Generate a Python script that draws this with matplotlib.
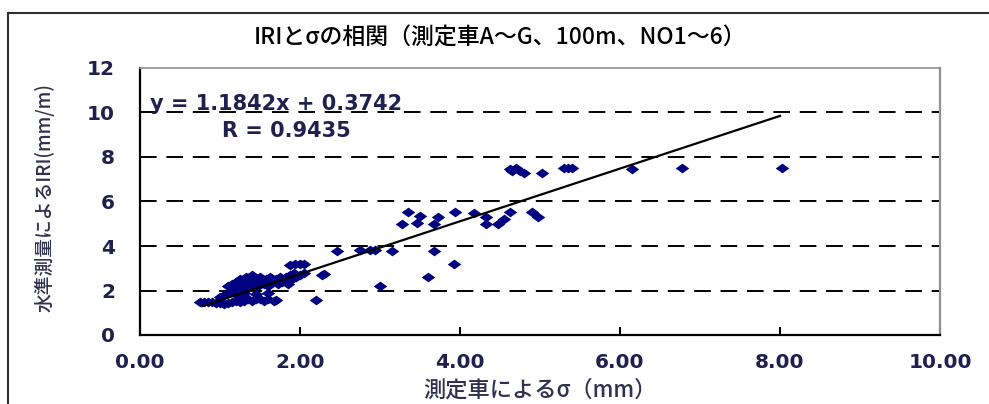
import matplotlib
matplotlib.use("Agg")
import matplotlib.pyplot as plt
import numpy as np
from matplotlib.path import Path
from matplotlib.patches import Rectangle

plt.rcParams['font.family'] = ['Noto Sans CJK JP', 'DejaVu Sans']
plt.rcParams['lines.scale_dashes'] = False

title = "IRIとσの相関（測定車A～G、100m、NO1～6）"
xlabel = "測定車によるσ（mm）"
ylabel = "水準測量によるIRI(mm/m)"

# sigma from the survey vehicle (mm)
sigma = [
    0.75, 0.80, 0.85, 0.90, 0.95, 1.00, 1.05, 1.10, 1.15, 1.20, 1.25, 1.30, 1.35,
    1.40, 1.45, 1.50, 1.55, 1.60, 1.68, 1.70,
    1.10, 1.12, 1.15, 1.18, 1.20, 1.22, 1.25, 1.28, 1.30, 1.32, 1.35, 1.38, 1.40,
    1.42, 1.45, 1.48, 1.50, 1.52, 1.55, 1.58, 1.60, 1.62, 1.65, 1.70, 1.72, 1.75,
    1.78, 1.80, 1.83, 1.85, 1.88, 1.90, 1.92, 1.95, 2.00, 2.05,
    1.00, 1.05, 1.30, 1.45, 1.60, 1.25,
    1.87, 1.94, 2.00, 2.05, 2.27, 2.30, 2.20,
    2.46, 2.75, 2.87, 2.94, 3.15, 3.00, 3.67, 3.60, 3.92,
    3.27, 3.35, 3.46, 3.50, 3.67, 3.73, 3.94, 4.17, 4.33, 4.33, 4.48, 4.63,
    4.90, 4.98, 4.55,
    4.62, 4.65, 4.70, 4.75, 4.80, 5.03, 5.30, 5.35, 5.40, 6.15, 6.78, 8.02,
]
# IRI from levelling survey (mm/m)
iri = [
    1.50, 1.50, 1.48, 1.50, 1.45, 1.45, 1.40, 1.45, 1.50, 1.55, 1.50, 1.55, 1.60,
    1.55, 1.60, 1.60, 1.55, 1.60, 1.55, 1.57,
    2.20, 2.00, 2.30, 1.90, 2.40, 2.10, 2.50, 2.20, 2.30, 2.60, 2.10, 2.40, 2.70,
    2.30, 2.50, 2.20, 2.60, 2.40, 2.30, 2.50, 2.20, 2.60, 2.40, 2.50, 2.30, 2.60,
    2.40, 2.50, 2.60, 2.30, 2.70, 2.50, 2.80, 2.60, 2.70, 2.80,
    1.70, 1.80, 1.90, 1.85, 1.90, 1.75,
    3.15, 3.20, 3.20, 3.20, 2.70, 2.75, 1.57,
    3.78, 3.82, 3.82, 3.82, 3.78, 2.20, 3.78, 2.60, 3.19,
    5.00, 5.53, 5.03, 5.35, 5.00, 5.30, 5.53, 5.48, 5.30, 5.00, 5.00, 5.53,
    5.53, 5.30, 5.20,
    7.45, 7.35, 7.50, 7.35, 7.30, 7.28, 7.50, 7.50, 7.50, 7.46, 7.50, 7.50,
]

slope = 1.1842
intercept = 0.3742
r_value = 0.9435
fit_x = [0.78, 8.0]

fig = plt.figure(figsize=(9.89, 4.04), dpi=100)

# chart-area frame
fig.patches.append(Rectangle((8 / 989, -0.1), 1.2, (404 - 13) / 404 + 0.1,
                             transform=fig.transFigure, fill=False,
                             edgecolor='#303030', linewidth=1.5, zorder=0))

ax = fig.add_axes([140 / 989, (404 - 335) / 404, 800 / 989, 267 / 404])

diamond = Path([(-1, 0), (0, 0.72), (1, 0), (0, -0.72), (-1, 0)],
               [Path.MOVETO, Path.LINETO, Path.LINETO, Path.LINETO, Path.CLOSEPOLY])
ax.scatter(sigma, iri, marker=diamond, s=95, color='#000080', linewidths=0, zorder=3)

fx = np.array(fit_x)
ax.plot(fx, slope * fx + intercept, color='black', linewidth=1.6, zorder=4)

ax.set_xlim(0, 10)
ax.set_ylim(0, 12)
ax.set_xticks(np.arange(0, 10.01, 2))
ax.set_xticklabels([f"{v:.2f}" for v in np.arange(0, 10.01, 2)])
ax.set_yticks(np.arange(0, 12.01, 2))
ax.set_yticklabels([f"{int(v)}" for v in np.arange(0, 12.01, 2)])

tick_color = '#202050'
ax.tick_params(axis='x', direction='in', length=6, width=1.5, pad=13,
               labelsize=14.5, labelcolor=tick_color)
ax.tick_params(axis='y', direction='in', length=0, width=1.5, pad=18,
               labelsize=14.5, labelcolor=tick_color)
for lab in ax.get_xticklabels() + ax.get_yticklabels():
    lab.set_family(['DejaVu Sans'])
    lab.set_weight('bold')

for yv in [2, 4, 6, 8, 10]:
    ax.axhline(yv, color='black', linewidth=1.4, linestyle=(0, (12, 7)), zorder=1)

ax.spines['left'].set_color('black')
ax.spines['bottom'].set_color('black')
ax.spines['left'].set_linewidth(1.6)
ax.spines['bottom'].set_linewidth(1.6)
ax.spines['right'].set_color('#909090')
ax.spines['top'].set_color('#909090')
ax.spines['right'].set_linewidth(1.6)
ax.spines['top'].set_linewidth(1.2)

ax.text(0.12, 10.4, f"y = {slope:.4f}x + {intercept:.4f}", fontsize=15,
        color=tick_color, family=['DejaVu Sans'], weight='semibold',
        ha='left', va='center', zorder=5)
ax.text(1.03, 9.15, f"R = {r_value:.4f}", fontsize=15,
        color=tick_color, family=['DejaVu Sans'], weight='semibold',
        ha='left', va='center', zorder=5)

fig.text(500 / 989, 1 - 38 / 404, title, fontsize=16.5, ha='center', va='center',
         color='black', weight='medium')
fig.text(540 / 989, 1 - 390 / 404, xlabel, fontsize=16, ha='center', va='center',
         color='#303050', weight='medium')
fig.text(44 / 989, 1 - 198 / 404, ylabel, fontsize=13.5, ha='center', va='center',
         rotation=90, color='#303050', weight='medium')

fig.savefig("out.png", dpi=100)
